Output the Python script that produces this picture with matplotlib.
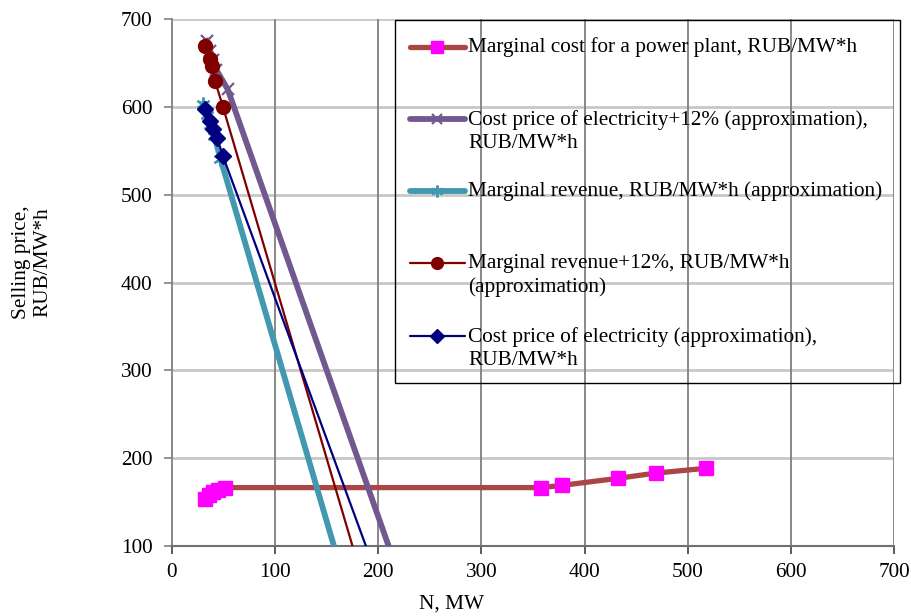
import matplotlib
matplotlib.use("Agg")
import matplotlib.pyplot as plt
from matplotlib.lines import Line2D
from matplotlib.patches import Rectangle

# marginal cost for a power plant
mc_n = [32, 36, 40, 45, 51, 358, 378, 432, 469, 518]
mc_p = [154, 158, 161, 164, 166.5, 166.5, 169, 177, 183, 188.5]
# cost price of electricity +12% (approximation)
cp12_n = [33.5, 37, 40, 43, 54, 210]
cp12_p = [675, 664, 653, 642, 620, 100]
# marginal revenue (approximation)
mr_n = [30, 34, 37, 41, 47, 157]
mr_p = [603, 591, 579, 567, 541, 100]
# marginal revenue +12% (approximation)
mr12_n = [32, 36.8, 38.8, 41.7, 49.4, 175]
mr12_p = [669.5, 654.7, 646.7, 629.6, 600, 100]
# cost price of electricity (approximation)
cp_n = [32, 36.8, 39.7, 43.6, 49.4, 188]
cp_p = [598, 584, 575, 565, 544, 100]

labels = [
    "Marginal cost for a power plant, RUB/MW*h",
    "Cost price of electricity+12% (approximation),\nRUB/MW*h",
    "Marginal revenue, RUB/MW*h (approximation)",
    "Marginal revenue+12%, RUB/MW*h\n(approximation)",
    "Cost price of electricity (approximation),\nRUB/MW*h",
]

C_BROWN = "#AA4643"; C_MAG = "#FF00FF"
C_PURP = "#71588F"; C_TEAL = "#4198AF"
C_RED = "#800000"; C_NAVY = "#000080"
ASTER = (6, 2, 0)

plt.rcParams["font.family"] = ["Liberation Serif", "DejaVu Serif"]
FS = 15.3

W, H = 912, 616
fig = plt.figure(figsize=(W / 100, H / 100), dpi=100)
ax = fig.add_axes([172 / W, 1 - 546 / H, (894 - 172) / W, (546 - 19) / H])

styles = [
    dict(color=C_BROWN, lw=3.8, marker="s", ms=10, mfc=C_MAG, mec=C_MAG),
    dict(color=C_PURP, lw=4.2, marker="x", ms=9, mew=1.6, mec=C_PURP),
    dict(color=C_TEAL, lw=4.2, marker=ASTER, ms=10, mew=1.6, mec=C_TEAL),
    dict(color=C_RED, lw=1.6, marker="o", ms=10, mfc=C_RED, mec=C_RED),
    dict(color=C_NAVY, lw=1.6, marker="D", ms=8, mfc=C_NAVY, mec=C_NAVY),
]

ax.plot(mc_n, mc_p, zorder=3, clip_on=False, **styles[0])
ax.plot(cp12_n, cp12_p, markevery=slice(0, 5), zorder=3, **styles[1])
ax.plot(mr_n, mr_p, markevery=slice(0, 5), zorder=3, **styles[2])
ax.plot(mr12_n, mr12_p, markevery=slice(0, 5), zorder=3, **styles[3])
ax.plot(cp_n, cp_p, markevery=slice(0, 5), zorder=3, **styles[4])

ax.set_xlim(0, 700)
ax.set_ylim(100, 700)
ax.set_xticks(range(0, 701, 100))
ax.set_yticks(range(100, 701, 100))
for x in range(100, 701, 100):
    ax.axvline(x, color="#808080", lw=1.3, zorder=1)
for y in range(200, 701, 100):
    ax.axhline(y, color="#C8C8C8", lw=2.0, zorder=0.9)

for s in ["top", "right"]:
    ax.spines[s].set_visible(False)
ax.spines["left"].set_color("#808080")
ax.spines["left"].set_linewidth(1.3)
ax.spines["bottom"].set_color("#707070")
ax.spines["bottom"].set_linewidth(1.5)
ax.tick_params(axis="both", direction="out", length=6, width=1.2,
               colors="#808080", labelcolor="black", labelsize=FS)
ax.tick_params(axis="x", colors="#404040", labelcolor="black", pad=6)
ax.tick_params(axis="y", pad=8)

fig.text(32 / W, 1 - 262 / H, "Selling price,\nRUB/MW*h", rotation=90,
         ha="center", va="center", multialignment="center", fontsize=FS)
fig.text(452 / W, 1 - 604 / H, "N, MW", ha="center", va="center", fontsize=FS)

# legend drawn like the spreadsheet one: transparent box, handle at first text line
fig.add_artist(Rectangle((395 / W, 1 - 383 / H), (900 - 395) / W, (383 - 20) / H,
                         transform=fig.transFigure, fill=False, ec="black", lw=1.0))
handle_y = [47, 119, 191, 263, 336]
for st, lab, hy in zip(styles, labels, handle_y):
    yf = 1 - hy / H
    kw = dict(st)
    fig.add_artist(Line2D([410 / W, 465 / W], [yf, yf], transform=fig.transFigure,
                          color=kw.pop("color"), lw=kw.pop("lw"), solid_capstyle="round"))
    kw["ms"] = kw["ms"] * 0.85
    fig.add_artist(Line2D([437.5 / W], [yf], transform=fig.transFigure,
                          linestyle="none", **kw))
    nlines = lab.count("\n") + 1
    yc = hy + (nlines - 1) * 12.5
    fig.text(468 / W, 1 - yc / H, lab, ha="left", va="center", fontsize=FS,
             linespacing=1.3)

fig.savefig("out.png", dpi=100)
